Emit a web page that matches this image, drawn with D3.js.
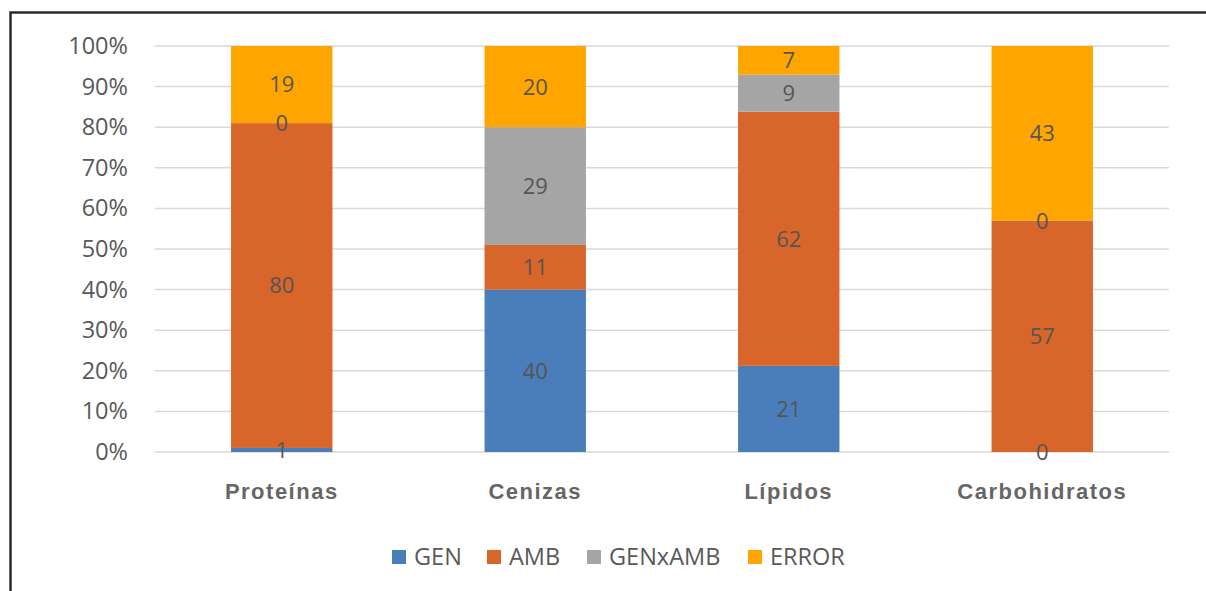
<!DOCTYPE html>
<html>
<head>
<meta charset="utf-8">
<script src="https://cdn.jsdelivr.net/npm/d3@7"></script>
<style>
  body { margin: 0; background: #fff; }
  svg { display: block; }
</style>
</head>
<body>
<svg width="1206" height="591"></svg>
<script>
var categories = ["Proteínas", "Cenizas", "Lípidos", "Carbohidratos"];
var seriesNames = ["GEN", "AMB", "GENxAMB", "ERROR"];
var GEN = [1, 40, 21, 0];
var AMB = [80, 11, 62, 57];
var GENxAMB = [0, 29, 9, 0];
var ERROR = [19, 20, 7, 43];
var tickValues = [0, 0.1, 0.2, 0.3, 0.4, 0.5, 0.6, 0.7, 0.8, 0.9, 1];

var colors = ["#4a7ebb", "#d8652a", "#a5a5a5", "#ffa500"];

var svg = d3.select("svg"),
    width = +svg.attr("width"),
    height = +svg.attr("height");

// chart frame (only top and left edges are visible in the picture)
svg.append("rect")
    .attr("x", 10.5).attr("y", 12.5)
    .attr("width", 1210).attr("height", 600)
    .attr("fill", "#fff")
    .attr("stroke", "#2b2b2b")
    .attr("stroke-width", 2.5);

var margin = { left: 155, right: 1169, top: 46, bottom: 452 };

var rows = categories.map(function (c, i) {
    var r = { cat: c, GEN: GEN[i], AMB: AMB[i], GENxAMB: GENxAMB[i], ERROR: ERROR[i] };
    r.total = GEN[i] + AMB[i] + GENxAMB[i] + ERROR[i];
    return r;
});

var x = d3.scaleBand()
    .domain(categories)
    .range([margin.left, margin.right])
    .paddingInner(0.6)
    .paddingOuter(0.3);

var y = d3.scaleLinear()
    .domain([0, 1])
    .range([margin.bottom, margin.top]);

var stack = d3.stack()
    .keys(seriesNames)
    .value(function (d, key) { return d[key] / d.total; });
var stacked = stack(rows);

// gridlines
svg.append("g")
    .selectAll("line")
    .data(tickValues)
    .enter()
    .append("line")
    .attr("x1", margin.left)
    .attr("x2", margin.right)
    .attr("y1", function (d) { return y(d); })
    .attr("y2", function (d) { return y(d); })
    .attr("stroke", "#d9d9d9")
    .attr("stroke-width", 1.5);

// y axis labels
var yAxis = d3.axisLeft(y)
    .tickValues(tickValues)
    .tickFormat(d3.format(".0%"))
    .tickSize(0)
    .tickPadding(27);

var yg = svg.append("g")
    .attr("transform", "translate(" + margin.left + ",0)")
    .call(yAxis);
yg.select(".domain").remove();
yg.selectAll("text")
    .attr("font-family", "'Open Sans', sans-serif")
    .attr("font-size", "23.5px")
    .attr("fill", "#595959");

// bars
var layer = svg.append("g")
    .selectAll("g")
    .data(stacked)
    .enter()
    .append("g")
    .attr("fill", function (d, i) { return colors[i]; });

layer.selectAll("rect")
    .data(function (d) { return d; })
    .enter()
    .append("rect")
    .attr("x", function (d) { return x(d.data.cat); })
    .attr("width", x.bandwidth())
    .attr("y", function (d) { return y(d[1]); })
    .attr("height", function (d) { return y(d[0]) - y(d[1]); });

// data labels
var labels = svg.append("g");
stacked.forEach(function (s) {
    s.forEach(function (d) {
        labels.append("text")
            .attr("x", x(d.data.cat) + x.bandwidth() / 2)
            .attr("y", (y(d[0]) + y(d[1])) / 2)
            .attr("dy", "0.36em")
            .attr("text-anchor", "middle")
            .attr("font-family", "'Open Sans', sans-serif")
            .attr("font-size", "22px")
            .attr("fill", "#555")
            .text(d.data[s.key]);
    });
});

// x axis labels
var xAxis = d3.axisBottom(x).tickSize(0).tickPadding(31);
var xg = svg.append("g")
    .attr("transform", "translate(0," + margin.bottom + ")")
    .call(xAxis);
xg.select(".domain").remove();
xg.selectAll("text")
    .attr("font-family", "'Liberation Sans', Arial, sans-serif")
    .attr("font-weight", "bold")
    .attr("font-size", "22px")
    .attr("letter-spacing", "1.5px")
    .attr("fill", "#666");

// legend
var legendX = [392, 487, 587, 748];
var legend = svg.append("g")
    .selectAll("g")
    .data(seriesNames)
    .enter()
    .append("g")
    .attr("transform", function (d, i) { return "translate(" + legendX[i] + ",550)"; });

legend.append("rect")
    .attr("width", 14).attr("height", 14)
    .attr("fill", function (d, i) { return colors[i]; });

legend.append("text")
    .attr("x", 22)
    .attr("y", 7)
    .attr("dy", "0.36em")
    .attr("font-family", "'Open Sans', sans-serif")
    .attr("font-size", "23.5px")
    .attr("fill", "#595959")
    .text(function (d) { return d; });
</script>
</body>
</html>
